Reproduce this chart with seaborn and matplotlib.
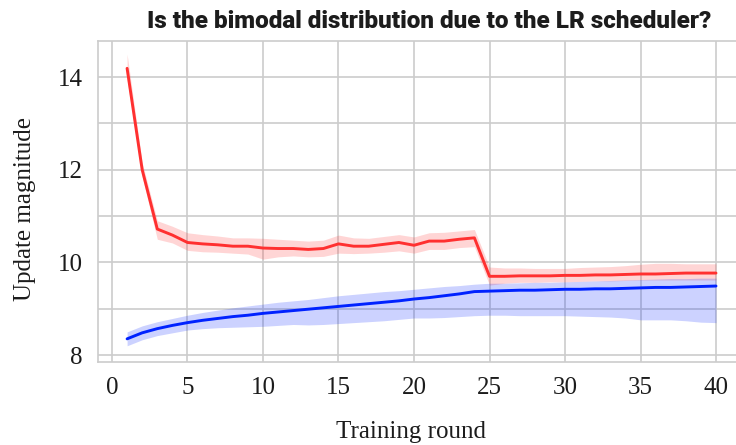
import matplotlib
matplotlib.use("Agg")
import matplotlib.pyplot as plt
from matplotlib import font_manager
from matplotlib.ticker import MultipleLocator
import numpy as np
import pandas as pd
import seaborn as sns

# Mean update magnitude per training round, with the spread across runs
rounds = list(range(1, 41))

red_mean = [14.19, 12.00, 10.72, 10.59, 10.43, 10.40, 10.38, 10.35, 10.35, 10.31,
            10.30, 10.30, 10.28, 10.30, 10.40, 10.35, 10.35, 10.39, 10.43, 10.37,
            10.46, 10.46, 10.50, 10.53, 9.70, 9.70, 9.71, 9.71, 9.71, 9.72,
            9.72, 9.73, 9.73, 9.74, 9.75, 9.75, 9.76, 9.77, 9.77, 9.77]
red_low = [13.95, 11.85, 10.50, 10.42, 10.26, 10.23, 10.22, 10.20, 10.18, 10.07,
           10.12, 10.14, 10.12, 10.13, 10.20, 10.19, 10.20, 10.22, 10.25, 10.20,
           10.28, 10.28, 10.32, 10.34, 9.51, 9.55, 9.57, 9.57, 9.58, 9.58,
           9.59, 9.60, 9.60, 9.61, 9.62, 9.62, 9.62, 9.62, 9.62, 9.62]
red_high = [14.50, 12.15, 10.90, 10.78, 10.64, 10.60, 10.57, 10.53, 10.53, 10.52,
            10.50, 10.48, 10.46, 10.48, 10.59, 10.53, 10.52, 10.56, 10.60, 10.55,
            10.64, 10.65, 10.68, 10.71, 9.90, 9.88, 9.88, 9.87, 9.87, 9.87,
            9.89, 9.90, 9.91, 9.93, 9.96, 9.98, 9.98, 9.97, 9.97, 9.97]

blue_mean = [8.35, 8.48, 8.57, 8.64, 8.70, 8.75, 8.79, 8.83, 8.86, 8.90,
             8.93, 8.96, 8.99, 9.02, 9.05, 9.08, 9.11, 9.14, 9.17, 9.21,
             9.24, 9.28, 9.32, 9.37, 9.38, 9.39, 9.40, 9.40, 9.41, 9.42,
             9.42, 9.43, 9.43, 9.44, 9.45, 9.46, 9.46, 9.47, 9.48, 9.49]
blue_low = [8.20, 8.33, 8.42, 8.48, 8.54, 8.57, 8.59, 8.60, 8.61, 8.62,
            8.64, 8.66, 8.65, 8.66, 8.68, 8.70, 8.72, 8.74, 8.77, 8.80,
            8.80, 8.81, 8.83, 8.85, 8.86, 8.86, 8.85, 8.85, 8.85, 8.85,
            8.84, 8.83, 8.82, 8.80, 8.76, 8.76, 8.76, 8.74, 8.71, 8.70]
blue_high = [8.50, 8.63, 8.72, 8.79, 8.86, 8.92, 8.97, 9.02, 9.06, 9.10,
             9.14, 9.17, 9.20, 9.24, 9.28, 9.31, 9.34, 9.37, 9.39, 9.42,
             9.45, 9.48, 9.50, 9.53, 9.55, 9.55, 9.56, 9.57, 9.57, 9.58,
             9.59, 9.60, 9.61, 9.62, 9.63, 9.64, 9.65, 9.65, 9.66, 9.66]

title = "Is the bimodal distribution due to the LR scheduler?"
x_label = "Training round"
y_label = "Update magnitude"
x_ticks = [0, 5, 10, 15, 20, 25, 30, 35, 40]
y_ticks = [8, 10, 12, 14]

sns.set_theme(style="whitegrid")

available = {f.name for f in font_manager.fontManager.ttflist}
title_family = next((f for f in ["Liberation Sans Narrow", "Roboto", "DejaVu Sans"] if f in available), "DejaVu Sans")
plt.rcParams["font.family"] = ["Liberation Serif", "DejaVu Serif"]

GRID = "#cccccc"
RED = "#ff3030"
BLUE = "#0022ff"
TEXT = "#1c1c1c"

df = pd.DataFrame({
    "round": rounds * 2,
    "magnitude": red_mean + blue_mean,
    "group": ["red"] * len(rounds) + ["blue"] * len(rounds),
})

fig = plt.figure(figsize=(7.36, 4.45), dpi=100)
ax = fig.add_axes([97.65 / 736, 1 - 362 / 445, 647.8 / 736, 321 / 445])

ax.fill_between(rounds, red_low, red_high, color=RED, alpha=0.2, linewidth=0)
ax.fill_between(rounds, blue_low, blue_high, color=BLUE, alpha=0.2, linewidth=0)
sns.lineplot(data=df, x="round", y="magnitude", hue="group",
             palette={"red": RED, "blue": BLUE}, linewidth=2.1,
             legend=False, ax=ax, errorbar=None)

ax.set_xlim(-0.95, 41.95)
ax.set_ylim(7.85, 14.78)
ax.set_xticks(x_ticks)
ax.set_yticks(y_ticks)
ax.yaxis.set_minor_locator(MultipleLocator(1))
ax.grid(True, which="both", color=GRID, linewidth=1.2)
ax.tick_params(axis="both", which="both", length=0, labelsize=18, pad=11, colors=TEXT)
for side in ["left", "top", "bottom", "right"]:
    ax.spines[side].set_color(GRID)
    ax.spines[side].set_linewidth(1.2)

ax.set_xlabel(x_label, fontsize=18, color=TEXT)
ax.set_ylabel(y_label, fontsize=18, color=TEXT)
ax.xaxis.set_label_coords((411.5 - 97.65) / 647.8, -(421 - 362) / 321)
ax.yaxis.set_label_coords(-(97.65 - 36) / 647.8, (362 - 209) / 321)

fig.text(429 / 736, 1 - 21 / 445, title, ha="center", va="center",
         fontsize=17.5, fontweight=900, family=[title_family, "DejaVu Sans"],
         color=TEXT)

fig.savefig("out.png", dpi=100)
